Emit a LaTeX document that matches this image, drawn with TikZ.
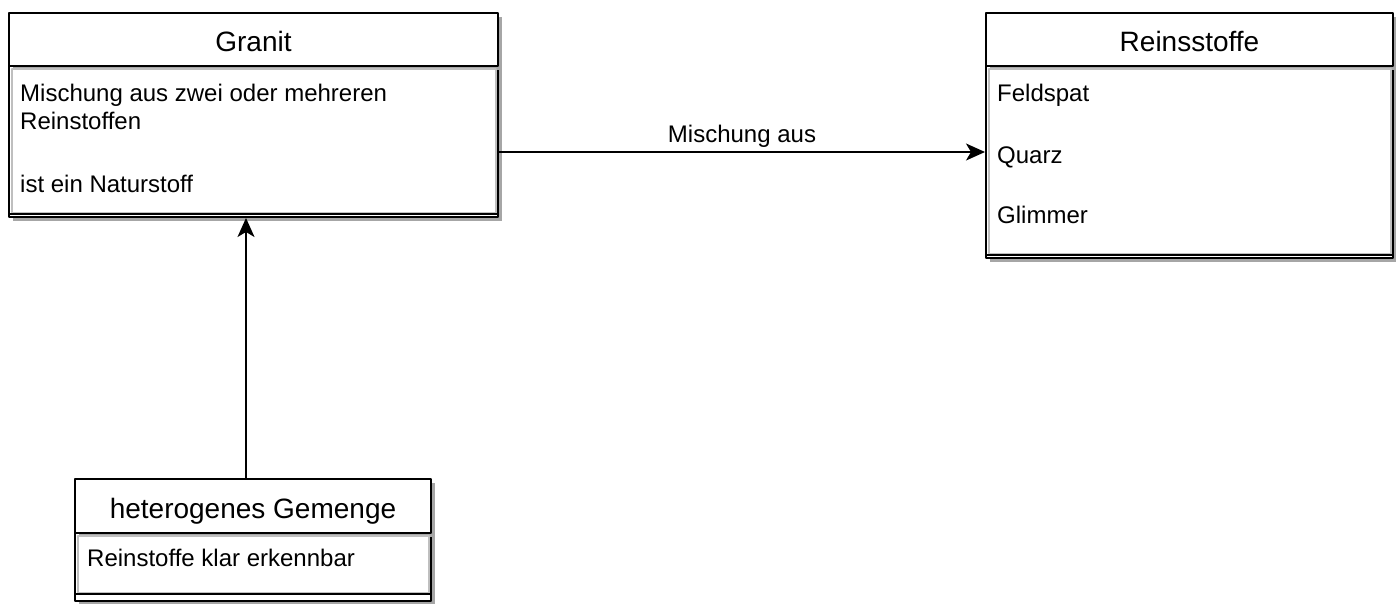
\documentclass[tikz,border=0pt]{standalone}
\usepackage{fontspec}
\setmainfont{Liberation Sans}
\usetikzlibrary{arrows.meta,shadows}
\tikzset{
  shade box/.style={drop shadow={shadow xshift=3.5pt, shadow yshift=-3.5pt, fill=black!35, opacity=1}},
  classhead/.style={draw, line width=2pt, fill=white, shade box, inner sep=0pt,
    font=\fontsize{28}{33}\selectfont, text height=24pt, text depth=0pt, anchor=north west},
  classbody/.style={draw, line width=2pt, fill=white, shade box, inner sep=0pt, anchor=north west},
  inner line/.style={draw=black!25, line width=1.4pt},
  item/.style={font=\fontsize{24}{27.6}\selectfont, inner sep=0pt, anchor=base west},
  arr/.style={line width=1.5pt, -{Stealth[length=19pt,width=17pt,inset=5pt]}}
}
\begin{document}
\begin{tikzpicture}[x=1pt, y=-1pt, line join=round]
  \useasboundingbox (0,0) rectangle (1396,603);
  % Granit
  \node[classbody, minimum width=489pt, minimum height=151pt] (gbody) at (8,65) {};
  \node[classhead, minimum width=489pt, minimum height=53pt] (ghead) at (8,12) {Granit};
  \draw[inner line] ([shift={(4,4)}]gbody.north west) rectangle ([shift={(-3,-5)}]gbody.south east);
  \draw[line width=2pt] ([yshift=4pt]gbody.south west) -- ([yshift=4pt]gbody.south east);
  \node[item] (gtxt) at (20,101.7) {Mischung aus zwei oder mehreren};
  \node[item] (gtxt2) at (20,129.3) {Reinstoffen};
  \node[item] (gnat) at (20,192) {ist ein Naturstoff};
  % Reinsstoffe
  \node[classbody, minimum width=407pt, minimum height=192pt] (rbody) at (985,65) {};
  \node[classhead, minimum width=407pt, minimum height=53pt] (rhead) at (985,12) {Reinsstoffe};
  \draw[inner line] ([shift={(4,4)}]rbody.north west) rectangle ([shift={(-3,-5)}]rbody.south east);
  \draw[line width=2pt] ([yshift=4pt]rbody.south west) -- ([yshift=4pt]rbody.south east);
  \node[item] (feld) at (997,101.7) {Feldspat};
  \node[item] (quarz) at (997,163.3) {Quarz};
  \node[item] (glim) at (997,223.3) {Glimmer};
  % heterogenes Gemenge
  \node[classbody, minimum width=356pt, minimum height=68pt] (hbody) at (74,532) {};
  \node[classhead, minimum width=356pt, minimum height=54pt] (hhead) at (74,478) {heterogenes Gemenge};
  \draw[inner line] ([shift={(4,4)}]hbody.north west) rectangle ([shift={(-3,-9)}]hbody.south east);
  \draw[line width=2pt] ([yshift=8pt]hbody.south west) -- ([yshift=8pt]hbody.south east);
  \node[item] (htxt) at (87,566.7) {Reinstoffe klar erkennbar};
  % connectors
  \coordinate (mixrow) at (0,152);
  \draw[arr] (gbody.east |- mixrow) -- node[item, anchor=base, pos=0.5, yshift=10pt] (mixlbl) {Mischung aus} (rbody.west |- mixrow);
  \draw[arr] ([xshift=-7pt]hhead.north) -- ([xshift=-7pt]hhead.north |- gbody.south);
\end{tikzpicture}
\end{document}
